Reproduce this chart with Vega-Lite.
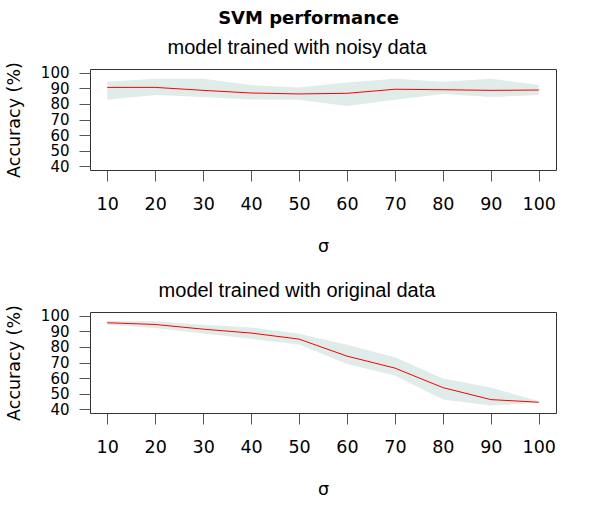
{
  "$schema": "https://vega.github.io/schema/vega-lite/v6.json",
  "description": "SVM accuracy against sigma, model trained with noisy vs original data.",
  "background": "white",
  "padding": {"left": 4, "right": 5, "top": 10, "bottom": 5},
  "title": {
    "text": "SVM performance",
    "font": "DejaVu Sans",
    "fontSize": 18,
    "fontWeight": "bold",
    "color": "black",
    "anchor": "middle",
    "dx": 28,
    "offset": 9
  },
  "datasets": {
    "noisy": [
      {"sigma": 10, "mean": 90.6, "lower": 82.6, "upper": 94.3},
      {"sigma": 20, "mean": 90.6, "lower": 85.7, "upper": 96.2},
      {"sigma": 30, "mean": 88.7, "lower": 84.5, "upper": 96.2},
      {"sigma": 40, "mean": 87.0, "lower": 82.8, "upper": 92.1},
      {"sigma": 50, "mean": 86.4, "lower": 82.6, "upper": 90.6},
      {"sigma": 60, "mean": 86.8, "lower": 78.7, "upper": 93.8},
      {"sigma": 70, "mean": 89.4, "lower": 82.6, "upper": 96.2},
      {"sigma": 80, "mean": 89.1, "lower": 86.4, "upper": 94.3},
      {"sigma": 90, "mean": 88.7, "lower": 84.5, "upper": 96.2},
      {"sigma": 100, "mean": 88.9, "lower": 85.7, "upper": 92.1}
    ],
    "original": [
      {"sigma": 10, "mean": 95.5, "lower": 94.2, "upper": 96.6},
      {"sigma": 20, "mean": 94.4, "lower": 92.1, "upper": 96.4},
      {"sigma": 30, "mean": 91.4, "lower": 88.6, "upper": 94.2},
      {"sigma": 40, "mean": 88.9, "lower": 85.2, "upper": 92.5},
      {"sigma": 50, "mean": 85.0, "lower": 81.6, "upper": 88.4},
      {"sigma": 60, "mean": 74.1, "lower": 69.1, "upper": 81.4},
      {"sigma": 70, "mean": 66.4, "lower": 61.6, "upper": 73.4},
      {"sigma": 80, "mean": 53.9, "lower": 46.2, "upper": 59.7},
      {"sigma": 90, "mean": 46.2, "lower": 42.4, "upper": 53.9},
      {"sigma": 100, "mean": 44.5, "lower": 44.1, "upper": 45.1}
    ]
  },
  "spacing": 24,
  "vconcat": [
    {
      "title": {"text": "model trained with noisy data", "dx": -26},
      "width": 466,
      "height": 101,
      "data": {"name": "noisy"},
      "encoding": {
        "x": {
          "field": "sigma",
          "type": "quantitative",
          "scale": {"domain": [6.4, 103.6], "nice": false, "zero": false},
          "axis": {"values": [10, 20, 30, 40, 50, 60, 70, 80, 90, 100], "title": "σ"}
        }
      },
      "layer": [
        {
          "mark": {"type": "area", "color": "#dfecea", "opacity": 1},
          "encoding": {
            "y": {
              "field": "upper",
              "type": "quantitative",
              "scale": {"domain": [37.6, 102.4], "nice": false, "zero": false},
              "axis": {"values": [40, 50, 60, 70, 80, 90, 100], "title": "Accuracy (%)", "titleX": -76}
            },
            "y2": {"field": "lower"}
          }
        },
        {
          "mark": {"type": "line", "color": "red", "strokeWidth": 1},
          "encoding": {
            "y": {
              "field": "mean",
              "type": "quantitative",
              "axis": {"values": [40, 50, 60, 70, 80, 90, 100], "title": "Accuracy (%)", "titleX": -76}
            }
          }
        }
      ]
    },
    {
      "title": {"text": "model trained with original data", "dx": -26},
      "width": 466,
      "height": 101,
      "data": {"name": "original"},
      "encoding": {
        "x": {
          "field": "sigma",
          "type": "quantitative",
          "scale": {"domain": [6.4, 103.6], "nice": false, "zero": false},
          "axis": {"values": [10, 20, 30, 40, 50, 60, 70, 80, 90, 100], "title": "σ"}
        }
      },
      "layer": [
        {
          "mark": {"type": "area", "color": "#dfecea", "opacity": 1},
          "encoding": {
            "y": {
              "field": "upper",
              "type": "quantitative",
              "scale": {"domain": [37.6, 102.4], "nice": false, "zero": false},
              "axis": {"values": [40, 50, 60, 70, 80, 90, 100], "title": "Accuracy (%)", "titleX": -76}
            },
            "y2": {"field": "lower"}
          }
        },
        {
          "mark": {"type": "line", "color": "red", "strokeWidth": 1},
          "encoding": {
            "y": {
              "field": "mean",
              "type": "quantitative",
              "axis": {"values": [40, 50, 60, 70, 80, 90, 100], "title": "Accuracy (%)", "titleX": -76}
            }
          }
        }
      ]
    }
  ],
  "config": {
    "view": {"stroke": "#333333", "strokeWidth": 1},
    "title": {
      "font": "Liberation Sans",
      "fontSize": 20,
      "fontWeight": "normal",
      "color": "black",
      "offset": 4
    },
    "axis": {
      "grid": false,
      "domain": false,
      "labelOverlap": false,
      "labelFlush": false,
      "tickColor": "#555555",
      "tickSize": 11,
      "labelFont": "DejaVu Sans",
      "labelFontSize": 17.5,
      "labelColor": "black",
      "titleFont": "DejaVu Sans",
      "titleFontSize": 17.5,
      "titleFontWeight": "normal",
      "titleColor": "black"
    },
    "axisX": {"labelPadding": 14, "titlePadding": 25},
    "axisY": {"labelPadding": 10, "labelFontSize": 15, "titleBaseline": "middle", "titleY": 50.5}
  }
}
